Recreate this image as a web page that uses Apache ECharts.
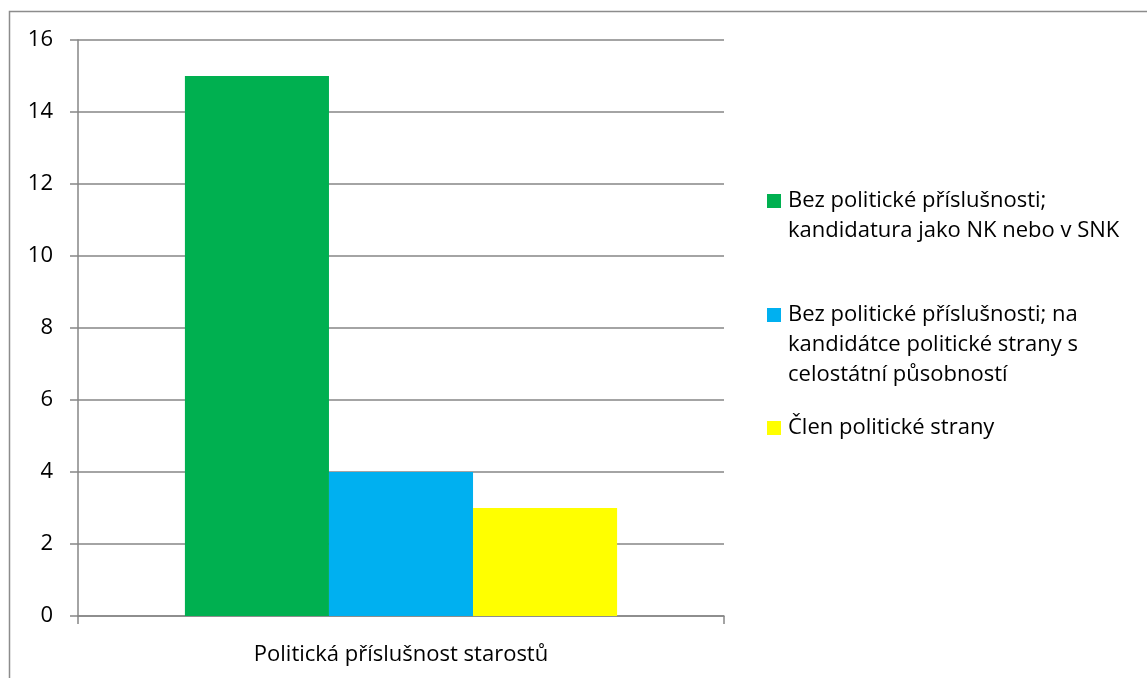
<!DOCTYPE html>
<html><head><meta charset="utf-8">
<script src="https://cdn.jsdelivr.net/npm/echarts@6/dist/echarts.min.js"></script>
<style>html,body{margin:0;padding:0;background:#fff}#c{width:1147px;height:678px}</style>
</head><body><div id="c"></div>
<script>
const categories = ['Politická příslušnost starostů'];
const seriesNames = [
  'Bez politické příslušnosti;\nkandidatura jako NK nebo v SNK',
  'Bez politické příslušnosti; na\nkandidátce politické strany s\ncelostátní působností',
  'Člen politické strany'
];
const seriesValues = [[15], [4], [3]];
const seriesColors = ['#00B050', '#00B0F0', '#FFFF00'];
const yTicks = { min: 0, max: 16, interval: 2 };

const FONT = 'Open Sans';
const FS = 22;
const LH = 30;
const iconCenters = [201, 315, 428];
const legends = seriesNames.map((n, i) => {
  const lines = n.split('\n').length;
  const H = LH * (2 * lines - 1);
  return {
    left: 762,
    top: iconCenters[i] - 5 - H / 2,
    orient: 'vertical',
    itemWidth: 14, itemHeight: 14, itemGap: 0,
    icon: 'rect',
    selectedMode: false,
    data: [n],
    formatter: (name) => '\n'.repeat(lines - 1) + name,
    textStyle: { fontFamily: FONT, fontSize: FS, color: '#000', lineHeight: LH, padding: [0, 0, 0, 2] }
  };
});

const chart = echarts.init(document.getElementById('c'), null, { renderer: 'canvas' });
chart.setOption({
  animation: false,
  backgroundColor: '#fff',
  graphic: [{
    type: 'rect', shape: { x: 9.5, y: 11.5, width: 1300, height: 800 },
    style: { fill: 'none', stroke: '#8c8c8c', lineWidth: 1.5 }, silent: true
  }],
  grid: { left: 78, right: 423, top: 40, bottom: 62 },
  legend: legends,
  xAxis: {
    type: 'category', data: categories,
    axisLine: { lineStyle: { color: '#868686', width: 1.5 } },
    axisTick: { show: true, length: 8, lineStyle: { color: '#868686', width: 1.5 } },
    axisLabel: { fontFamily: FONT, fontSize: FS, color: '#000', margin: 24, lineHeight: LH }
  },
  yAxis: {
    type: 'value', min: yTicks.min, max: yTicks.max, interval: yTicks.interval,
    axisLine: { show: true, lineStyle: { color: '#868686', width: 1.5 } },
    axisTick: { show: true, length: 8, lineStyle: { color: '#868686', width: 1.5 } },
    splitLine: { lineStyle: { color: '#868686', width: 1.5 } },
    axisLabel: { fontFamily: FONT, fontSize: FS, color: '#000', margin: 25 }
  },
  series: seriesNames.map((n, i) => ({
    type: 'bar', name: n, data: seriesValues[i],
    itemStyle: { color: seriesColors[i] },
    barGap: '0%', barCategoryGap: '33.1%'
  }))
});
</script></body></html>
